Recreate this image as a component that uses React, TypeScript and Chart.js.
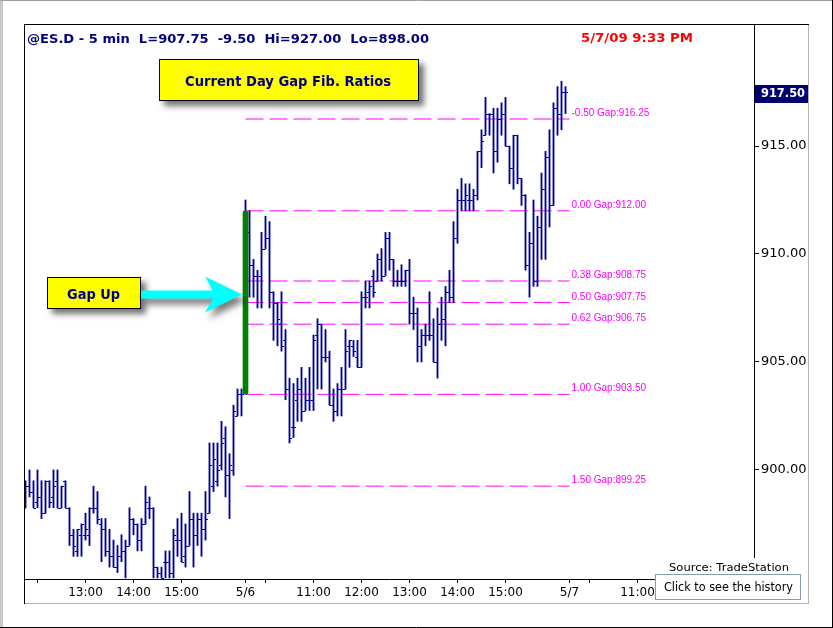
import React, { useEffect, useRef } from 'react';
import { Chart, registerables } from 'chart.js';

Chart.register(...registerables);

// 5-minute bars, 5/5 afternoon (55 bars) followed by the full 5/6 session (81 bars)
const opens = [
  898.25, 899.25, 899.0, 898.5, 898.75, 898.0, 899.5, 898.75, 899.5, 898.25,
  899.5, 898.25, 897.0, 896.25, 897.0, 897.0, 897.0, 898.25, 898.25, 897.5,
  897.25, 896.25, 896.0, 895.5, 896.0, 896.25, 896.5, 897.75, 897.5, 896.75,
  897.5, 898.25, 898.25, 895.5, 895.25, 895.75, 895.75, 895.25, 896.75, 896.75,
  896.0, 896.5, 897.75, 897.0, 897.75, 897.25, 898.0, 899.25, 899.5, 900.25,
  901.5, 899.75, 900.0, 902.5, 903.5,
  912.0, 911.0, 909.5, 909.0, 909.0, 910.25, 910.75, 908.25, 907.75, 906.75,
  906.0, 903.75, 902.0, 903.25, 903.75, 902.75, 903.25, 903.25, 906.25, 906.75,
  905.25, 905.25, 903.0, 902.75, 903.75, 903.75, 905.75, 905.75, 905.25, 904.75,
  908.0, 908.25, 909.0, 908.75, 909.75, 909.0, 910.75, 909.75, 908.75, 908.75,
  908.75, 909.25, 907.25, 907.25, 905.75, 906.25, 906.25, 906.25, 905.0, 906.75,
  907.0, 908.25, 908.0, 910.75, 912.5, 912.5, 912.5, 912.5, 912.75, 914.75,
  915.5, 916.5, 916.5, 914.75, 916.25, 916.5, 915.0, 914.0, 915.5, 913.5,
  912.75, 909.5, 910.5, 908.75, 911.25, 913.0, 914.5, 912.25, 916.75, 916.5,
  917.5,
];
const highs = [
  899.5, 900.0, 899.5, 900.0, 899.5, 899.5, 899.5, 900.0, 900.0, 899.25,
  899.5, 898.25, 897.25, 897.25, 897.5, 898.0, 898.25, 899.25, 899.0, 897.75,
  897.75, 897.25, 896.75, 896.5, 897.0, 896.75, 898.25, 897.75, 897.5, 897.75,
  899.25, 898.75, 898.25, 895.5, 895.5, 896.25, 896.25, 897.25, 897.75, 898.0,
  897.5, 899.0, 898.0, 898.0, 898.0, 899.0, 901.25, 901.25, 901.25, 902.25,
  902.0, 900.75, 903.0, 903.75, 903.75,
  912.5, 912.0, 909.75, 909.25, 911.0, 911.75, 911.5, 908.25, 907.75, 908.25,
  906.5, 904.25, 904.0, 904.25, 904.75, 904.25, 904.75, 906.25, 907.0, 906.75,
  906.5, 905.5, 903.75, 904.0, 904.75, 906.5, 906.0, 906.0, 906.0, 908.25,
  908.75, 908.75, 909.25, 910.0, 910.25, 911.0, 911.0, 909.75, 909.25, 909.5,
  909.25, 909.75, 908.0, 907.5, 906.5, 906.75, 908.25, 907.0, 907.5, 908.0,
  908.5, 909.25, 911.5, 913.0, 913.5, 913.25, 913.25, 913.0, 914.75, 915.75,
  917.25, 916.5, 916.75, 916.75, 917.0, 917.25, 915.0, 915.5, 915.5, 913.5,
  912.75, 911.0, 912.5, 911.75, 913.75, 914.75, 915.75, 917.0, 917.75, 918.0,
  917.75,
];
const lows = [
  898.25, 898.75, 898.25, 898.25, 897.75, 898.0, 898.25, 898.25, 898.25, 898.25,
  898.25, 896.5, 896.0, 896.0, 896.0, 896.75, 896.5, 898.0, 897.5, 895.75,
  896.0, 895.5, 895.5, 895.25, 895.75, 895.0, 896.5, 897.0, 896.25, 896.25,
  897.5, 897.75, 895.0, 895.0, 895.0, 895.0, 895.0, 895.0, 896.0, 895.75,
  895.5, 896.5, 895.5, 896.5, 896.0, 896.75, 898.0, 899.0, 899.25, 900.0,
  898.75, 897.75, 899.75, 902.5, 902.5,
  910.75, 908.0, 908.0, 907.5, 907.5, 910.25, 907.5, 906.0, 905.75, 905.5,
  903.25, 901.25, 901.5, 902.25, 902.25, 902.75, 902.75, 902.75, 903.75, 903.75,
  905.0, 903.0, 902.25, 902.5, 902.5, 903.75, 904.75, 905.25, 904.75, 904.75,
  907.5, 907.5, 908.0, 908.75, 908.75, 909.0, 909.25, 908.5, 908.5, 908.5,
  908.5, 906.75, 906.5, 905.0, 905.0, 905.75, 906.0, 905.0, 904.25, 906.0,
  905.75, 907.75, 907.75, 910.5, 912.0, 912.0, 912.0, 912.0, 912.5, 914.0,
  915.5, 915.5, 913.75, 914.25, 915.5, 915.0, 913.25, 913.0, 913.25, 912.25,
  909.25, 908.0, 908.5, 908.5, 909.75, 909.75, 911.25, 912.25, 915.5, 915.75,
  916.5,
];
const closes = [
  899.25, 899.0, 898.25, 898.75, 898.0, 899.5, 898.5, 899.25, 898.25, 899.25,
  898.25, 897.0, 896.5, 897.25, 897.5, 897.25, 898.25, 898.25, 897.75, 897.25,
  896.25, 896.0, 895.5, 896.0, 896.25, 896.5, 897.75, 897.5, 896.75, 897.5,
  898.5, 898.25, 895.5, 895.25, 895.0, 895.75, 895.25, 897.0, 896.75, 895.75,
  896.5, 897.75, 897.0, 897.75, 897.25, 897.75, 900.25, 900.5, 900.0, 901.25,
  899.75, 900.25, 902.75, 903.5, 903.5,
  911.0, 909.5, 909.0, 909.0, 910.25, 910.75, 908.25, 907.75, 907.0, 905.75,
  903.75, 901.5, 902.0, 903.75, 902.75, 903.25, 903.25, 906.0, 906.75, 905.25,
  905.25, 903.0, 902.75, 903.75, 903.75, 905.5, 906.0, 905.5, 904.75, 908.0,
  908.0, 908.5, 908.25, 909.75, 909.0, 910.75, 909.75, 908.75, 908.75, 908.75,
  909.25, 907.25, 907.25, 905.75, 906.25, 906.25, 906.25, 905.0, 906.75, 907.0,
  908.25, 908.0, 910.75, 912.5, 912.5, 912.75, 912.5, 912.75, 914.75, 915.25,
  916.5, 916.5, 914.75, 916.25, 916.5, 915.0, 914.0, 915.5, 913.5, 912.75,
  909.5, 910.5, 908.75, 911.25, 913.0, 914.5, 912.25, 916.75, 916.5, 917.5,
  917.5,
];

// Gap retracement levels for the 5/6 session
const fibRatios = ['-0.50', '0.00', '0.38', '0.50', '0.62', '1.00', '1.50'];
const fibLevels = [916.25, 912.0, 908.75, 907.75, 906.75, 903.5, 899.25];
const gapRange = [903.5, 912.0];
const gapBarIndex = 55;
const sessionEndIndex = 136;
const lastPrice = 917.5;

// Time axis: bar index of each tick and its label
const timeTickIndex = [3, 15, 27, 39, 55, 60, 72, 84, 96, 108, 120, 136, 141, 153];
const timeTickLabels = ['', '13:00', '14:00', '15:00', '5/6', '', '11:00', '12:00', '13:00', '14:00', '15:00', '5/7', '', '11:00'];
const priceTicks = [900, 905, 910, 915];

const headerText = '@ES.D - 5 min  L=907.75  -9.50  Hi=927.00  Lo=898.00';
const stampText = '5/7/09 9:33 PM';

const BAR_COLOR = '#0000a0';
const NAVY = '#000080';
const SANS = '"DejaVu Sans", Verdana, sans-serif';
const ARIAL = '"Liberation Sans", Arial, sans-serif';

function fitText(ctx: CanvasRenderingContext2D, text: string, x: number, y: number, width: number) {
  const w = ctx.measureText(text).width;
  ctx.save();
  ctx.translate(x, y);
  ctx.scale(width / w, 1);
  ctx.textAlign = 'left';
  ctx.fillText(text, 0, 0);
  ctx.restore();
}

function line(ctx: CanvasRenderingContext2D, x1: number, y1: number, x2: number, y2: number) {
  ctx.beginPath();
  ctx.moveTo(x1, y1);
  ctx.lineTo(x2, y2);
  ctx.stroke();
}

function shadowBox(ctx: CanvasRenderingContext2D, x: number, y: number, w: number, h: number) {
  ctx.save();
  ctx.shadowColor = 'rgba(0,0,0,0.55)';
  ctx.shadowBlur = 6;
  ctx.shadowOffsetX = 5;
  ctx.shadowOffsetY = 5;
  ctx.fillStyle = '#ffff00';
  ctx.fillRect(x, y, w, h);
  ctx.restore();
  ctx.strokeStyle = '#000';
  ctx.lineWidth = 1;
  ctx.strokeRect(x + 0.5, y + 0.5, w - 1, h - 1);
}

// Open (left) and close (right) ticks of each OHLC bar, drawn right after the range bars
const ohlcTicks = {
  id: 'ohlcTicks',
  afterDatasetDraw(chart: any, args: any) {
    if (args.index !== 0) return;
    const { ctx, chartArea: a } = chart;
    const xs = chart.scales.x;
    const ys = chart.scales.y;
    ctx.save();
    ctx.beginPath();
    ctx.rect(a.left, a.top, a.right - a.left, a.bottom - a.top);
    ctx.clip();
    ctx.strokeStyle = BAR_COLOR;
    ctx.lineWidth = 1.2;
    ctx.beginPath();
    opens.forEach((o, i) => {
      const px = xs.getPixelForValue(i);
      const yo = Math.round(ys.getPixelForValue(o)) + 0.5;
      const yc = Math.round(ys.getPixelForValue(closes[i])) + 0.5;
      ctx.moveTo(px - 2.5, yo);
      ctx.lineTo(px, yo);
      ctx.moveTo(px, yc);
      ctx.lineTo(px + 2.5, yc);
    });
    ctx.stroke();
    ctx.restore();
  },
};

const decorations = {
  id: 'decorations',
  afterDraw(chart: any) {
    const ctx: CanvasRenderingContext2D = chart.ctx;
    const xs = chart.scales.x;
    const ys = chart.scales.y;
    ctx.save();

    // window frame
    ctx.fillStyle = '#c8c8c8';
    ctx.fillRect(0, 0, 3, 628);
    ctx.lineWidth = 1;
    ctx.strokeStyle = '#a0a0a0';
    line(ctx, 0, 0.5, 833, 0.5);
    ctx.strokeStyle = '#000';
    line(ctx, 0, 627.5, 833, 627.5);
    line(ctx, 832.5, 0, 832.5, 628);

    // chart panel frame
    ctx.strokeStyle = '#000';
    line(ctx, 24.5, 24, 24.5, 604);
    line(ctx, 24, 24.5, 809, 24.5);
    ctx.strokeStyle = '#b4b4b4';
    line(ctx, 808.5, 25, 808.5, 604);
    line(ctx, 25, 603.5, 809, 603.5);

    // header line
    ctx.textBaseline = 'alphabetic';
    ctx.font = `bold 13px ${SANS}`;
    ctx.fillStyle = NAVY;
    fitText(ctx, headerText, 27, 43, 402);
    ctx.fillStyle = '#ff0000';
    fitText(ctx, stampText, 581, 42, 112);

    // fib ratio labels at the right end of each dashed level
    const xEnd = xs.getPixelForValue(sessionEndIndex);
    ctx.font = `10px ${ARIAL}`;
    ctx.fillStyle = '#ff00ff';
    fibLevels.forEach((lvl, i) => {
      ctx.fillText(`${fibRatios[i]} Gap:${lvl.toFixed(2)}`, xEnd + 2, ys.getPixelForValue(lvl) - 3);
    });

    // last price tag on the price axis
    const ty = ys.getPixelForValue(lastPrice);
    ctx.fillStyle = '#000070';
    ctx.fillRect(755, Math.round(ty) - 7, 53, 18);
    ctx.fillStyle = '#fff';
    ctx.font = `bold 13px ${SANS}`;
    ctx.textBaseline = 'middle';
    fitText(ctx, lastPrice.toFixed(2), 761, Math.round(ty) + 2, 44);
    ctx.textBaseline = 'alphabetic';

    // title callout
    shadowBox(ctx, 159, 59, 260, 42);
    ctx.fillStyle = NAVY;
    ctx.font = `bold 14px ${SANS}`;
    fitText(ctx, 'Current Day Gap Fib. Ratios', 185, 86, 206);

    // gap callout and arrow
    shadowBox(ctx, 47, 277, 94, 32);
    ctx.fillStyle = NAVY;
    ctx.font = `bold 14px ${SANS}`;
    fitText(ctx, 'Gap Up', 67, 298.5, 53);

    ctx.save();
    ctx.shadowColor = 'rgba(0,0,0,0.5)';
    ctx.shadowBlur = 6;
    ctx.shadowOffsetX = 4;
    ctx.shadowOffsetY = 6;
    ctx.fillStyle = '#00ffff';
    ctx.beginPath();
    ctx.moveTo(141, 290.5);
    ctx.lineTo(213, 290.5);
    ctx.lineTo(205, 276.5);
    ctx.lineTo(242, 294.5);
    ctx.lineTo(205, 312.5);
    ctx.lineTo(213, 298.5);
    ctx.lineTo(141, 298.5);
    ctx.closePath();
    ctx.fill();
    ctx.restore();

    // source note and history button
    ctx.fillStyle = '#fff';
    ctx.fillRect(662, 558, 138, 16);
    ctx.fillStyle = '#000';
    ctx.font = `11px ${SANS}`;
    fitText(ctx, 'Source: TradeStation', 669, 571, 120);

    ctx.fillStyle = '#fff';
    ctx.fillRect(655, 574, 146, 26);
    ctx.strokeStyle = '#8a9aae';
    ctx.strokeRect(655.5, 574.5, 145, 25);
    ctx.fillStyle = '#000';
    ctx.font = `12px ${SANS}`;
    fitText(ctx, 'Click to see the history', 664, 591, 129);

    ctx.restore();
  },
};

export default function App() {
  const canvasRef = useRef<HTMLCanvasElement | null>(null);

  useEffect(() => {
    document.body.style.margin = '0';
    const canvas = canvasRef.current;
    if (!canvas) return;

    const rangeData = highs.map((h, i) => ({ x: i, y: [lows[i], h] }));
    const fibSets = fibLevels.map((lvl) => ({
      type: 'line' as const,
      data: [
        { x: gapBarIndex, y: lvl },
        { x: sessionEndIndex, y: lvl },
      ],
      borderColor: '#ff00ff',
      borderWidth: 1,
      borderDash: [18, 6],
      pointRadius: 0,
      fill: false,
      order: 3,
    }));

    const chart = new Chart(canvas, {
      type: 'bar',
      data: {
        datasets: [
          {
            type: 'bar',
            data: rangeData as any,
            backgroundColor: BAR_COLOR,
            barThickness: 1.2,
            grouped: false,
            order: 2,
          },
          {
            type: 'bar',
            data: [{ x: gapBarIndex, y: gapRange }] as any,
            backgroundColor: '#008000',
            barThickness: 5,
            borderRadius: 3,
            borderSkipped: false,
            grouped: false,
            order: 1,
          },
          ...fibSets,
        ] as any,
      },
      options: {
        responsive: false,
        animation: false,
        devicePixelRatio: 1,
        events: [],
        layout: { padding: { left: 24, top: 24, right: 25, bottom: 25 } },
        plugins: {
          legend: { display: false },
          tooltip: { enabled: false },
          title: { display: false },
        },
        scales: {
          x: {
            type: 'linear',
            min: -0.375,
            max: 182.125,
            offset: false,
            grid: { drawOnChartArea: false, offset: false, tickLength: 4, color: '#000', lineWidth: 1 },
            border: { color: '#000', width: 1 },
            ticks: {
              autoSkip: false,
              maxRotation: 0,
              padding: 3,
              color: '#000',
              font: { family: SANS, size: 12 },
              callback: (_v: any, i: number) => timeTickLabels[i] ?? '',
            },
            afterBuildTicks: (s: any) => {
              s.ticks = timeTickIndex.map((v) => ({ value: v }));
            },
            afterFit: (s: any) => {
              s.height = 24;
            },
          },
          y: {
            type: 'linear',
            position: 'right',
            min: 894.95,
            max: 920.65,
            grid: { drawOnChartArea: false, tickLength: 5, color: '#000', lineWidth: 1 },
            border: { color: '#000', width: 1 },
            ticks: {
              padding: 2,
              color: '#000',
              font: { family: SANS, size: 13 },
              callback: (v: any) => Number(v).toFixed(2),
            },
            afterBuildTicks: (s: any) => {
              s.ticks = priceTicks.map((v) => ({ value: v }));
            },
            afterFit: (s: any) => {
              s.width = 54;
            },
          },
        },
      } as any,
      plugins: [ohlcTicks, decorations],
    });

    return () => chart.destroy();
  }, []);

  return <canvas ref={canvasRef} width={833} height={628} style={{ display: 'block' }} />;
}
